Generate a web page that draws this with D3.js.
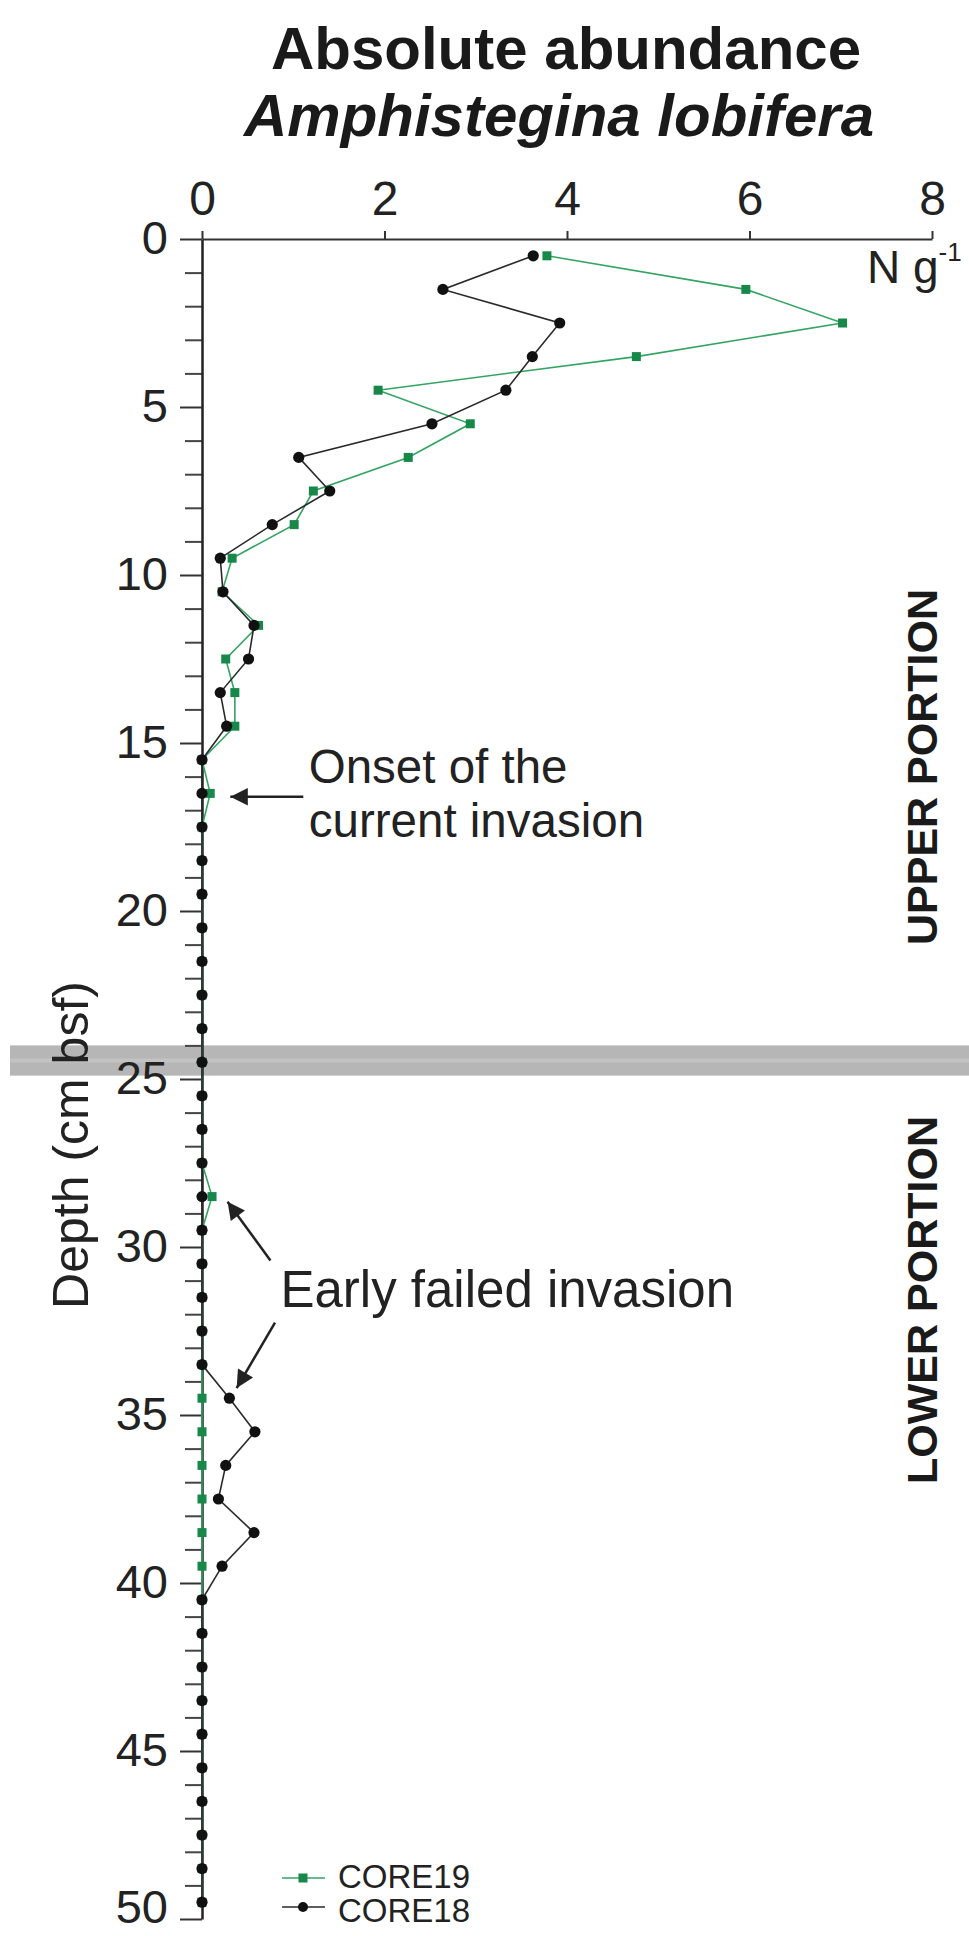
<!DOCTYPE html>
<html>
<head>
<meta charset="utf-8">
<script src="https://cdn.jsdelivr.net/npm/d3@7/dist/d3.min.js"></script>
<style>
  html, body { margin: 0; padding: 0; background: #fff; }
  svg { display: block; font-family: "Liberation Sans", Arial, Helvetica, sans-serif; }
</style>
</head>
<body>
<svg id="chart" width="969" height="1936"></svg>
<script>
// Sample mid-depths (cm below sea floor)
const depths = [0.5, 1.5, 2.5, 3.5, 4.5, 5.5, 6.5, 7.5, 8.5, 9.5,
  10.5, 11.5, 12.5, 13.5, 14.5, 15.5, 16.5, 17.5, 18.5, 19.5,
  20.5, 21.5, 22.5, 23.5, 24.5, 25.5, 26.5, 27.5, 28.5, 29.5,
  30.5, 31.5, 32.5, 33.5, 34.5, 35.5, 36.5, 37.5, 38.5, 39.5,
  40.5, 41.5, 42.5, 43.5, 44.5, 45.5, 46.5, 47.5, 48.5, 49.5];

// Absolute abundance of Amphistegina lobifera (N g^-1)
const core19 = [3.78, 5.96, 7.02, 4.76, 1.93, 2.94, 2.26, 1.22, 1.01, 0.33,
  0.22, 0.62, 0.26, 0.36, 0.36, 0, 0.09, 0, 0, 0,
  0, 0, 0, 0, 0, 0, 0, 0, 0.11, 0,
  0, 0, 0, 0, 0, 0, 0, 0, 0, 0,
  0, 0, 0, 0, 0, 0, 0, 0, 0, 0];

const core18 = [3.63, 2.64, 3.92, 3.62, 3.33, 2.52, 1.06, 1.40, 0.77, 0.20,
  0.23, 0.57, 0.51, 0.20, 0.27, 0, 0, 0, 0, 0,
  0, 0, 0, 0, 0, 0, 0, 0, 0, 0,
  0, 0, 0, 0, 0.30, 0.58, 0.26, 0.18, 0.57, 0.22,
  0, 0, 0, 0, 0, 0, 0, 0, 0, 0];

const seriesNames = ["CORE19", "CORE18"];
const xTickValues = [0, 2, 4, 6, 8];
const yMajorTicks = [0, 5, 10, 15, 20, 25, 30, 35, 40, 45, 50];
const boundaryDepth = [24.0, 24.9];   // limit between upper and lower portion

const svg = d3.select("#chart");

const x = d3.scaleLinear().domain([0, 8]).range([202, 932]);
const y = d3.scaleLinear().domain([0, 50]).range([239, 1919]);

const C19_LINE = "#34a463", C19_FILL = "#17884a";
const C18_LINE = "#2a2a2a", C18_FILL = "#111";
const INK = "#222";

// Titles
svg.append("text")
  .attr("x", 566).attr("y", 69)
  .attr("text-anchor", "middle")
  .attr("font-size", 60).attr("font-weight", "bold").attr("fill", "#1a1a1a")
  .text("Absolute abundance");
svg.append("text")
  .attr("x", 559).attr("y", 136)
  .attr("text-anchor", "middle")
  .attr("font-size", 60).attr("font-weight", "bold").attr("font-style", "italic").attr("fill", "#1a1a1a")
  .text("Amphistegina lobifera");

// Grey band marking the boundary between portions
svg.append("rect")
  .attr("x", 10).attr("width", 969 - 10)
  .attr("y", y(boundaryDepth[0]))
  .attr("height", y(boundaryDepth[1]) - y(boundaryDepth[0]))
  .attr("fill", "#b6b6b6");
svg.append("line")
  .attr("x1", 10).attr("x2", 969)
  .attr("y1", y(d3.mean(boundaryDepth))).attr("y2", y(d3.mean(boundaryDepth)))
  .attr("stroke", "#c2c2c2").attr("stroke-width", 4);

// Top value axis
const xAxis = svg.append("g")
  .attr("transform", `translate(0,${y(0)})`)
  .call(d3.axisTop(x).tickValues(xTickValues).tickSize(8).tickSizeOuter(0).tickPadding(16));
xAxis.select(".domain").attr("stroke", "#333").attr("stroke-width", 2);
xAxis.selectAll(".tick line").attr("stroke", "#333").attr("stroke-width", 2);
xAxis.selectAll(".tick text")
  .attr("font-family", "Liberation Sans, Arial, sans-serif")
  .attr("font-size", 48).attr("fill", INK);

// Depth axis: minor ticks every cm, labelled ticks every 5 cm
const minorTicks = d3.range(0, 51).filter(v => v % 5 !== 0);
const yMinor = svg.append("g")
  .attr("transform", `translate(${x(0)},0)`)
  .call(d3.axisLeft(y).tickValues(minorTicks).tickSize(17).tickSizeOuter(0).tickFormat(""));
yMinor.select(".domain").remove();
yMinor.selectAll(".tick line").attr("stroke", "#444").attr("stroke-width", 2);

const yAxis = svg.append("g")
  .attr("transform", `translate(${x(0)},0)`)
  .call(d3.axisLeft(y).tickValues(yMajorTicks).tickSize(22).tickSizeOuter(0).tickPadding(12));
yAxis.select(".domain").attr("stroke", "#222").attr("stroke-width", 2.5);
yAxis.selectAll(".tick line").attr("stroke", "#333").attr("stroke-width", 2);
yAxis.selectAll(".tick text")
  .attr("font-family", "Liberation Sans, Arial, sans-serif")
  .attr("font-size", 47).attr("fill", INK)
  // the bottom label sits a little higher so it stays inside the page
  .attr("dy", d => d === 50 ? "0.08em" : "0.3em");

// Unit label
const unit = svg.append("text")
  .attr("x", 867).attr("y", 283)
  .attr("font-size", 46).attr("fill", INK);
unit.append("tspan").text("N g");
unit.append("tspan").attr("font-size", 26).attr("dy", -22).text("-1");

// Axis title
svg.append("text")
  .attr("transform", "translate(88,1145) rotate(-90)")
  .attr("text-anchor", "middle")
  .attr("font-size", 50).attr("fill", INK)
  .text("Depth (cm bsf)");

// Portion labels
[["UPPER PORTION", 767], ["LOWER PORTION", 1300]].forEach(([label, cy]) => {
  svg.append("text")
    .attr("transform", `translate(937,${cy}) rotate(-90)`)
    .attr("text-anchor", "middle")
    .attr("font-size", 43).attr("font-weight", "bold").attr("fill", "#1a1a1a")
    .text(label);
});

// Profiles
const rows19 = depths.map((d, i) => ({ depth: d, value: core19[i] }));
const rows18 = depths.map((d, i) => ({ depth: d, value: core18[i] }));
const line = d3.line().x(d => x(d.value)).y(d => y(d.depth));

svg.append("path").datum(rows19)
  .attr("d", line).attr("fill", "none")
  .attr("stroke", C19_LINE).attr("stroke-width", 1.6);
svg.append("g").selectAll("rect").data(rows19).join("rect")
  .attr("x", d => x(d.value) - 4.5).attr("y", d => y(d.depth) - 4.5)
  .attr("width", 9).attr("height", 9)
  .attr("fill", C19_FILL);

svg.append("path").datum(rows18)
  .attr("d", line).attr("fill", "none")
  .attr("stroke", C18_LINE).attr("stroke-width", 1.6);
svg.append("g").selectAll("circle").data(rows18).join("circle")
  .attr("cx", d => x(d.value)).attr("cy", d => y(d.depth))
  .attr("r", 5.6).attr("fill", C18_FILL);

// Annotations with arrows
svg.append("defs").append("marker")
  .attr("id", "arrow").attr("viewBox", "0 0 10 10")
  .attr("refX", 10).attr("refY", 5)
  .attr("markerWidth", 9).attr("markerHeight", 7)
  .attr("markerUnits", "strokeWidth")
  .attr("orient", "auto")
  .append("path").attr("d", "M0,0 L10,5 L0,10 Z").attr("fill", INK);

const arrows = [
  { from: [1.11, 16.6], to: [0.31, 16.6] },
  { from: [0.75, 30.4], to: [0.28, 28.65] },
  { from: [0.80, 32.25], to: [0.38, 34.2] }
];
svg.append("g").selectAll("line").data(arrows).join("line")
  .attr("x1", d => x(d.from[0])).attr("y1", d => y(d.from[1]))
  .attr("x2", d => x(d.to[0])).attr("y2", d => y(d.to[1]))
  .attr("stroke", INK).attr("stroke-width", 2.5)
  .attr("marker-end", "url(#arrow)");

const notes = [
  { text: "Onset of the", at: [1.17, 16.2], size: 47.5 },
  { text: "current invasion", at: [1.17, 17.8], size: 47.5 },
  { text: "Early failed invasion", at: [0.86, 31.8], size: 51 }
];
svg.append("g").selectAll("text").data(notes).join("text")
  .attr("x", d => x(d.at[0])).attr("y", d => y(d.at[1]))
  .attr("font-size", d => d.size).attr("fill", INK)
  .text(d => d.text);

// Legend
const legend = svg.append("g");
const legendRows = [
  { name: seriesNames[0], cy: 1878, base: 1888 },
  { name: seriesNames[1], cy: 1907, base: 1922 }
];
legendRows.forEach((r, i) => {
  legend.append("line").attr("x1", 282).attr("x2", 325).attr("y1", r.cy).attr("y2", r.cy)
    .attr("stroke", i === 0 ? C19_LINE : C18_LINE).attr("stroke-width", 1.6);
  if (i === 0) {
    legend.append("rect").attr("x", 298.5).attr("y", r.cy - 4.5).attr("width", 9).attr("height", 9).attr("fill", C19_FILL);
  } else {
    legend.append("circle").attr("cx", 303).attr("cy", r.cy).attr("r", 5).attr("fill", C18_FILL);
  }
  legend.append("text").attr("x", 338).attr("y", r.base)
    .attr("font-size", 33).attr("fill", INK).text(r.name);
});
</script>
</body>
</html>
